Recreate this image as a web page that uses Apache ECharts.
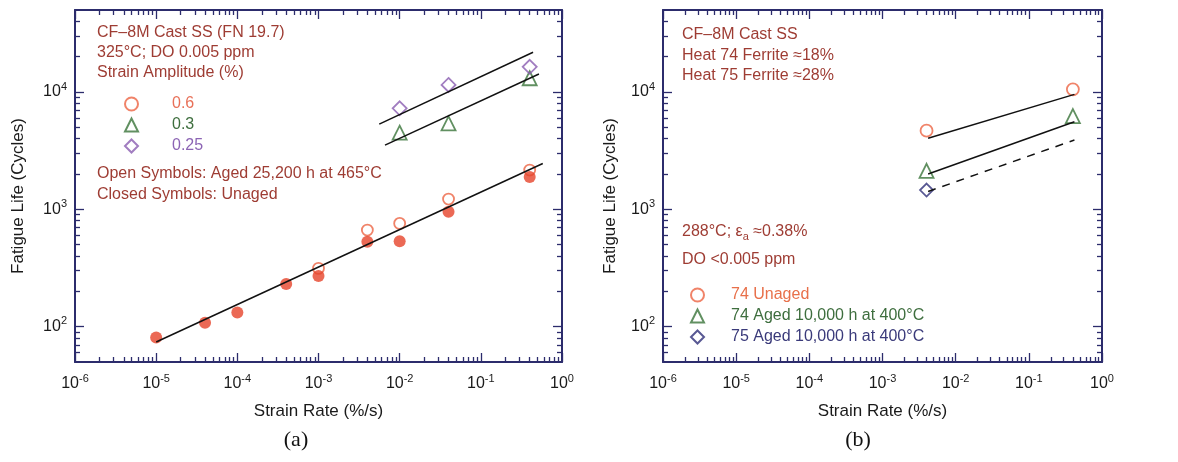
<!DOCTYPE html>
<html><head><meta charset="utf-8">
<script src="https://cdn.jsdelivr.net/npm/echarts@6/dist/echarts.min.js"></script>
<style>html,body{margin:0;padding:0;background:#fff}#c{width:1178px;height:462px}</style>
</head><body><div id="c"></div>
<script>
// ---------- tick labels (decade exponents) ----------
const xTickExps = [-6, -5, -4, -3, -2, -1, 0];
const yTickExps = [2, 3, 4];
const xRange = [1e-6, 1];
const yRange = [50, 50000];

// ---------- Panel (a): CF-8M, FN 19.7, 325°C ----------
const aUnagedRate = [1e-5, 4e-5, 1e-4, 4e-4, 1e-3, 4e-3, 1e-2, 4e-2, 0.4];
const aUnagedLife = [81, 108, 132, 231, 270, 530, 535, 953, 1885];
const aAged06Rate = [1e-3, 4e-3, 1e-2, 4e-2, 0.4];
const aAged06Life = [314, 666, 759, 1224, 2163];
const aAged03Rate = [1e-2, 4e-2, 0.4];
const aAged03Life = [4500, 5400, 13100];
const aAged025Rate = [1e-2, 4e-2, 0.4];
const aAged025Life = [7260, 11480, 16400];
const aFit06Rate = [1e-5, 0.58];
const aFit06Life = [74, 2460];
const aFit03Rate = [6.6e-3, 0.52];
const aFit03Life = [3530, 14230];
const aFit025Rate = [5.6e-3, 0.44];
const aFit025Life = [5330, 21800];

// ---------- Panel (b): Heats 74/75, 288°C ----------
const bUnaged74Rate = [4e-3, 0.4];
const bUnaged74Life = [4680, 10540];
const bAged74Rate = [4e-3, 0.4];
const bAged74Life = [2130, 6240];
const bAged75Rate = [4e-3];
const bAged75Life = [1460];
const bFitUnaged74Rate = [4.2e-3, 0.42];
const bFitUnaged74Life = [4030, 9550];
const bFitAged74Rate = [4.2e-3, 0.42];
const bFitAged74Life = [2000, 5580];
const bFitAged75Rate = [4.2e-3, 0.42];
const bFitAged75Life = [1420, 3900];

// ---------- styling ----------
const FONT = '"Liberation Sans", Arial, sans-serif';
const NAVY = '#2c2c6c';
const TXT = '#9e3c33';
const C_OR = '#ec6444', C_RED = '#e6442a', C_GR = '#3a743a', C_PU = '#8a5cb0', C_NV = '#2e2e78';

const lg = Math.log10;
const xMinorTicks = [];
for (let e = -6; e < 0; e++) for (let m = 2; m <= 9; m++) xMinorTicks.push(e + lg(m));
const yMinorTicks = [];
for (let e = 1; e <= 4; e++) for (let m = 2; m <= 9; m++) {
  const v = m * Math.pow(10, e);
  if (v > yRange[0] && v < yRange[1]) yMinorTicks.push(lg(v));
}
const pts = (xs, ys) => xs.map((x, i) => [x, ys[i]]);

const richSup = {
  b: {fontSize: 16, fontFamily: FONT, color: '#1a1a1a', lineHeight: 22},
  s: {fontSize: 11, fontFamily: FONT, color: '#1a1a1a', lineHeight: 14, verticalAlign: 'top'}
};
const supFmt = v => '{b|10}{s|' + Math.round(v) + '}';

function buildX(g) {
  const line = {color: NAVY, width: 2};
  const tk = {color: NAVY, width: 1.3};
  const lo = lg(xRange[0]), hi = lg(xRange[1]);
  const base = {gridIndex: g, splitLine: {show: false}, silent: true};
  const val = (pos, len, vals, showLine, label) => Object.assign({}, base, {
    type: 'value', min: lo, max: hi, position: pos,
    axisLine: {show: showLine, onZero: false, lineStyle: line},
    axisTick: {show: true, inside: true, length: len, lineStyle: tk, customValues: vals},
    axisLabel: label || {show: false}
  });
  return [
    Object.assign({}, base, {
      type: 'log', logBase: 10, min: xRange[0], max: xRange[1], position: 'bottom',
      axisLine: {show: true, onZero: false, lineStyle: line},
      axisTick: {show: false}, axisLabel: {show: false},
      name: 'Strain Rate (%/s)', nameLocation: 'middle', nameGap: 41,
      nameTextStyle: {fontSize: 17, fontFamily: FONT, color: '#1a1a1a'}
    }),
    val('bottom', 9, xTickExps, false, {show: true, customValues: xTickExps, margin: 11, formatter: supFmt, rich: richSup}),
    val('bottom', 5, xMinorTicks, false),
    val('top', 9, xTickExps, true),
    val('top', 5, xMinorTicks, false)
  ];
}
function buildY(g, gap) {
  const line = {color: NAVY, width: 2};
  const tk = {color: NAVY, width: 1.3};
  const lo = lg(yRange[0]), hi = lg(yRange[1]);
  const base = {gridIndex: g, splitLine: {show: false}, silent: true};
  const val = (pos, len, vals, showLine, label) => Object.assign({}, base, {
    type: 'value', min: lo, max: hi, position: pos,
    axisLine: {show: showLine, onZero: false, lineStyle: line},
    axisTick: {show: true, inside: true, length: len, lineStyle: tk, customValues: vals},
    axisLabel: label || {show: false}
  });
  return [
    Object.assign({}, base, {
      type: 'log', logBase: 10, min: yRange[0], max: yRange[1], position: 'left',
      axisLine: {show: true, onZero: false, lineStyle: line},
      axisTick: {show: false}, axisLabel: {show: false},
      name: 'Fatigue Life (Cycles)', nameLocation: 'middle', nameGap: gap, nameRotate: 90,
      nameTextStyle: {fontSize: 17, fontFamily: FONT, color: '#1a1a1a', padding: [0, 20, 0, 0]}
    }),
    val('left', 9, yTickExps, false, {show: true, customValues: yTickExps, margin: 8, formatter: supFmt, rich: richSup}),
    val('left', 5, yMinorTicks, false),
    val('right', 9, yTickExps, true),
    val('right', 5, yMinorTicks, false)
  ];
}

const openStyle = c => ({color: 'rgba(255,255,255,0)', borderColor: c, borderWidth: 1.8});
function scatter(name, ax, sym, size, xs, ys, style) {
  return {name, type: 'scatter', xAxisIndex: ax, yAxisIndex: ax, symbol: sym, symbolSize: size,
    data: pts(xs, ys), itemStyle: style, silent: true, z: 2};
}
function fit(ax, xs, ys, dashed) {
  return {type: 'line', xAxisIndex: ax, yAxisIndex: ax, data: pts(xs, ys), symbol: 'none', silent: true, z: 4,
    lineStyle: {color: '#111', width: 1.5, type: dashed ? [8, 7] : 'solid'}};
}

const t = (x, y, text, fill, extra) => ({type: 'text', x, y, silent: true,
  style: Object.assign({text, fill: fill || TXT, font: '16px ' + FONT, textVerticalAlign: 'middle'}, extra || {})});

const option = {
  animation: false,
  backgroundColor: '#fff',
  grid: [
    {left: 75, top: 10, width: 487, height: 352, outerBoundsMode: 'none', containLabel: false},
    {left: 663, top: 10, width: 439, height: 352, outerBoundsMode: 'none', containLabel: false}
  ],
  xAxis: buildX(0).concat(buildX(1)),
  yAxis: buildY(0, 48).concat(buildY(1, 44)),
  legend: [
    {orient: 'vertical', left: 119, top: 91, itemWidth: 13, itemHeight: 13, itemGap: 5, selectedMode: false,
     textStyle: {fontSize: 16, fontFamily: FONT, lineHeight: 16, padding: [0, 0, 0, 29]},
     data: [{name: '0.6', textStyle: {color: '#e87058'}}, {name: '0.3', textStyle: {color: '#3e6e3e'}}, {name: '0.25', textStyle: {color: '#8c64b4'}}]},
    {orient: 'vertical', left: 685, top: 282, itemWidth: 13, itemHeight: 13, itemGap: 5, selectedMode: false,
     textStyle: {fontSize: 16, fontFamily: FONT, lineHeight: 16, padding: [0, 0, 0, 22]},
     data: [{name: '74 Unaged', textStyle: {color: '#e8704a'}},
            {name: '74 Aged 10,000 h at 400°C', textStyle: {color: '#3e6e3e'}},
            {name: '75 Aged 10,000 h at 400°C', textStyle: {color: '#3a3a7a'}}]}
  ],
  graphic: [
    t(97, 33, 'CF–8M Cast SS (FN 19.7)'),
    t(97, 53, '325°C; DO 0.005 ppm'),
    t(97, 73, 'Strain Amplitude (%)'),
    t(97, 174, 'Open Symbols: Aged 25,200 h at 465°C'),
    t(97, 195, 'Closed Symbols: Unaged'),
    t(682, 35, 'CF–8M Cast SS'),
    t(682, 56, 'Heat 74 Ferrite ≈18%'),
    t(682, 76, 'Heat 75 Ferrite ≈28%'),
    t(682, 232, '288°C; ε{sub|a} ≈0.38%', TXT, {lineHeight: 20, rich: {sub: {fontSize: 11, fontFamily: FONT, fill: TXT, lineHeight: 12, verticalAlign: 'bottom'}}}),
    t(682, 260, 'DO <0.005 ppm'),
    {type: 'text', x: 296, y: 440, silent: true, style: {text: '(a)', font: '22px "Liberation Serif", "Times New Roman", serif', fill: '#111', textAlign: 'center', textVerticalAlign: 'middle'}},
    {type: 'text', x: 858, y: 440, silent: true, style: {text: '(b)', font: '22px "Liberation Serif", "Times New Roman", serif', fill: '#111', textAlign: 'center', textVerticalAlign: 'middle'}}
  ],
  series: [
    scatter('0.6', 0, 'circle', 11, aAged06Rate, aAged06Life, openStyle(C_OR)),
    scatter('0.3', 0, 'triangle', 14, aAged03Rate, aAged03Life, openStyle(C_GR)),
    scatter('0.25', 0, 'diamond', 14, aAged025Rate, aAged025Life, openStyle(C_PU)),
    scatter('Unaged 0.6', 0, 'circle', 12, aUnagedRate, aUnagedLife, {color: C_RED}),
    fit(0, aFit06Rate, aFit06Life),
    fit(0, aFit03Rate, aFit03Life),
    fit(0, aFit025Rate, aFit025Life),
    scatter('74 Unaged', 5, 'circle', 12, bUnaged74Rate, bUnaged74Life, openStyle(C_OR)),
    scatter('74 Aged 10,000 h at 400°C', 5, 'triangle', 14, bAged74Rate, bAged74Life, openStyle(C_GR)),
    scatter('75 Aged 10,000 h at 400°C', 5, 'diamond', 13, bAged75Rate, bAged75Life, openStyle(C_NV)),
    fit(5, bFitUnaged74Rate, bFitUnaged74Life),
    fit(5, bFitAged74Rate, bFitAged74Life),
    fit(5, bFitAged75Rate, bFitAged75Life, true)
  ]
};
const chart = echarts.init(document.getElementById('c'), null, {renderer: 'canvas'});
chart.setOption(option);
</script></body></html>
